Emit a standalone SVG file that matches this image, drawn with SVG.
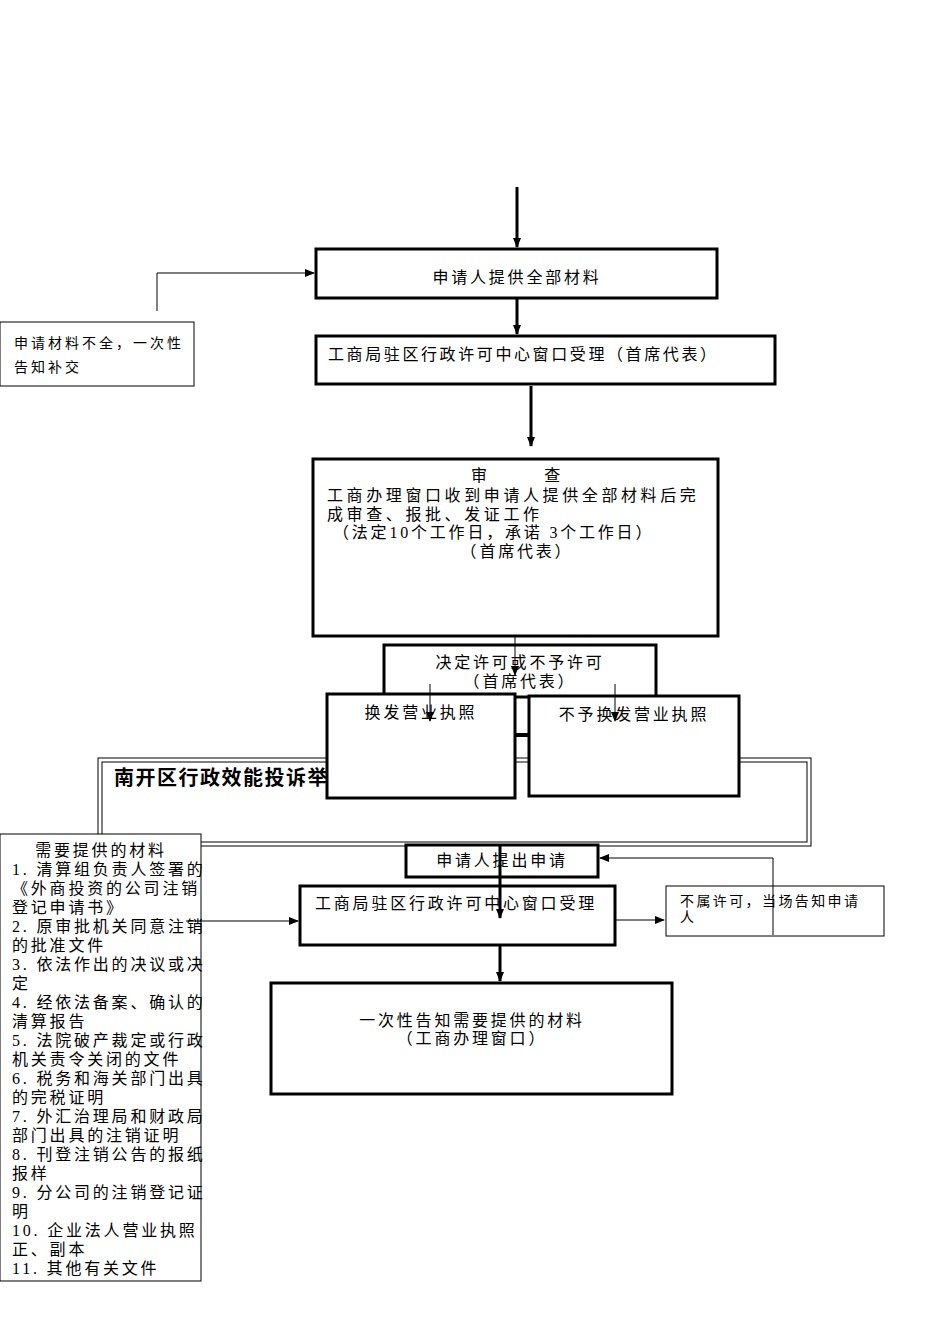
<svg xmlns="http://www.w3.org/2000/svg" width="950" height="1344" viewBox="0 0 950 1344">
<defs>
<marker id="ah" markerWidth="10" markerHeight="10" refX="9" refY="5" orient="auto" markerUnits="userSpaceOnUse"><path d="M0,1 L10,5 L0,9 Z" fill="#000"/></marker>
<style>
text{font-family:"Liberation Serif","Noto Sans CJK SC",serif;font-size:16px;letter-spacing:2.8px;fill:#000}
.b{fill:#fff;stroke:#000;stroke-width:3}
.t{fill:#fff;stroke:#000;stroke-width:1}
.c{stroke:#000;fill:none}
.s{font-size:14px;letter-spacing:1.8px}
.l{font-size:14px;letter-spacing:1.2px}
.m{text-anchor:middle}
</style>
</defs>
<rect width="950" height="1344" fill="#fff"/>
<g id="frame">
<rect x="98" y="758" width="713" height="88" class="c" stroke-width="1"/>
<rect x="102" y="762" width="705" height="80" class="c" stroke-width="1"/>
<text x="114" y="785" style="font-family:'Noto Sans CJK SC',sans-serif;font-weight:bold;font-size:20px;letter-spacing:1.5px">南开区行政效能投诉举</text>
</g>
<g id="n1"><rect x="316" y="249" width="401" height="49" class="b"/><text x="517" y="283" class="m">申请人提供全部材料</text></g>
<g id="n0"><rect x="0" y="322" width="194" height="64" class="t"/><text x="14" y="348" class="s" style="letter-spacing:3px">申请材料不全，一次性</text><text x="14" y="372" class="s" style="letter-spacing:3px">告知补交</text></g>
<g id="n2"><rect x="316" y="336" width="459" height="48" class="b"/><text x="328" y="360" style="letter-spacing:2.6px">工商局驻区行政许可中心窗口受理（首席代表）</text></g>
<g id="n3"><rect x="313" y="459" width="405" height="177" class="b"/>
<text x="517" y="481" class="m" xml:space="preserve">审        查</text>
<text x="327" y="501" style="letter-spacing:3.6px">工商办理窗口收到申请人提供全部材料后完</text>
<text x="327" y="520" style="letter-spacing:3.6px">成审查、报批、发证工作</text>
<text x="333" y="538">（法定10个工作日，承诺 3个工作日）</text>
<text x="517" y="557" class="m">（首席代表）</text></g>
<g id="n4"><rect x="384" y="645" width="272" height="52" class="b"/><text x="520" y="668" class="m">决定许可或不予许可</text><text x="520" y="687" class="m">（首席代表）</text></g>
<g id="n5"><rect x="327" y="694" width="188" height="104" class="b"/><text x="421" y="718" class="m">换发营业执照</text></g>
<g id="n6"><rect x="529" y="696" width="210" height="100" class="b"/><text x="634" y="720" class="m">不予换发营业执照</text></g>
<g id="n7"><rect x="0" y="834" width="201" height="447" class="t"/>
<g class="l"><text x="101" y="856" class="m">需要提供的材料</text>
<text x="12" y="875">1. 清算组负责人签署的</text>
<text x="12" y="894">《外商投资的公司注销</text>
<text x="12" y="913">登记申请书》</text>
<text x="12" y="932">2. 原审批机关同意注销</text>
<text x="12" y="951">的批准文件</text>
<text x="12" y="970">3. 依法作出的决议或决</text>
<text x="12" y="989">定</text>
<text x="12" y="1008">4. 经依法备案、确认的</text>
<text x="12" y="1027">清算报告</text>
<text x="12" y="1046">5. 法院破产裁定或行政</text>
<text x="12" y="1065">机关责令关闭的文件</text>
<text x="12" y="1084">6. 税务和海关部门出具</text>
<text x="12" y="1103">的完税证明</text>
<text x="12" y="1122">7. 外汇治理局和财政局</text>
<text x="12" y="1141">部门出具的注销证明</text>
<text x="12" y="1160">8. 刊登注销公告的报纸</text>
<text x="12" y="1179">报样</text>
<text x="12" y="1198">9. 分公司的注销登记证</text>
<text x="12" y="1217">明</text>
<text x="12" y="1236">10. 企业法人营业执照</text>
<text x="12" y="1255">正、副本</text>
<text x="12" y="1274">11. 其他有关文件</text></g></g>
<g id="n8"><rect x="406" y="845" width="192" height="32" class="b"/><text x="502" y="866" class="m">申请人提出申请</text></g>
<g id="n9"><rect x="300" y="886" width="315" height="59" class="b"/><text x="315" y="909">工商局驻区行政许可中心窗口受理</text></g>
<g id="n10"><rect x="666" y="886" width="218" height="50" class="t"/><text x="680" y="906" class="s" style="letter-spacing:2.4px">不属许可，当场告知申请</text><text x="680" y="922" class="s">人</text></g>
<g id="n11"><rect x="271" y="983" width="401" height="111" class="b"/><text x="472" y="1026" class="m">一次性告知需要提供的材料</text><text x="472" y="1044" class="m">（工商办理窗口）</text></g>
<g id="connectors" class="c">
<line x1="517" y1="187" x2="517" y2="247" stroke-width="3" marker-end="url(#ah)"/>
<line x1="517" y1="298" x2="517" y2="334" stroke-width="3" marker-end="url(#ah)"/>
<polyline points="157,311 157,273 314,273" stroke-width="1" marker-end="url(#ah)"/>
<line x1="531" y1="386" x2="531" y2="446" stroke-width="3" marker-end="url(#ah)"/>
<line x1="515" y1="636" x2="515" y2="675" stroke-width="1" marker-end="url(#ah)"/>
<line x1="430" y1="684" x2="430" y2="721" stroke-width="1" marker-end="url(#ah)"/>
<line x1="615" y1="684" x2="615" y2="721" stroke-width="1" marker-end="url(#ah)"/>
<line x1="515" y1="735" x2="529" y2="735" stroke-width="4"/>
<line x1="500" y1="845" x2="500" y2="918" stroke-width="3" marker-end="url(#ah)"/>
<polyline points="773,935 773,858 600,858" stroke-width="1" marker-end="url(#ah)"/>
<line x1="186" y1="921" x2="298" y2="921" stroke-width="1" marker-end="url(#ah)"/>
<line x1="615" y1="920" x2="664" y2="920" stroke-width="1" marker-end="url(#ah)"/>
<line x1="500" y1="945" x2="500" y2="981" stroke-width="3" marker-end="url(#ah)"/>
</g>
</svg>
